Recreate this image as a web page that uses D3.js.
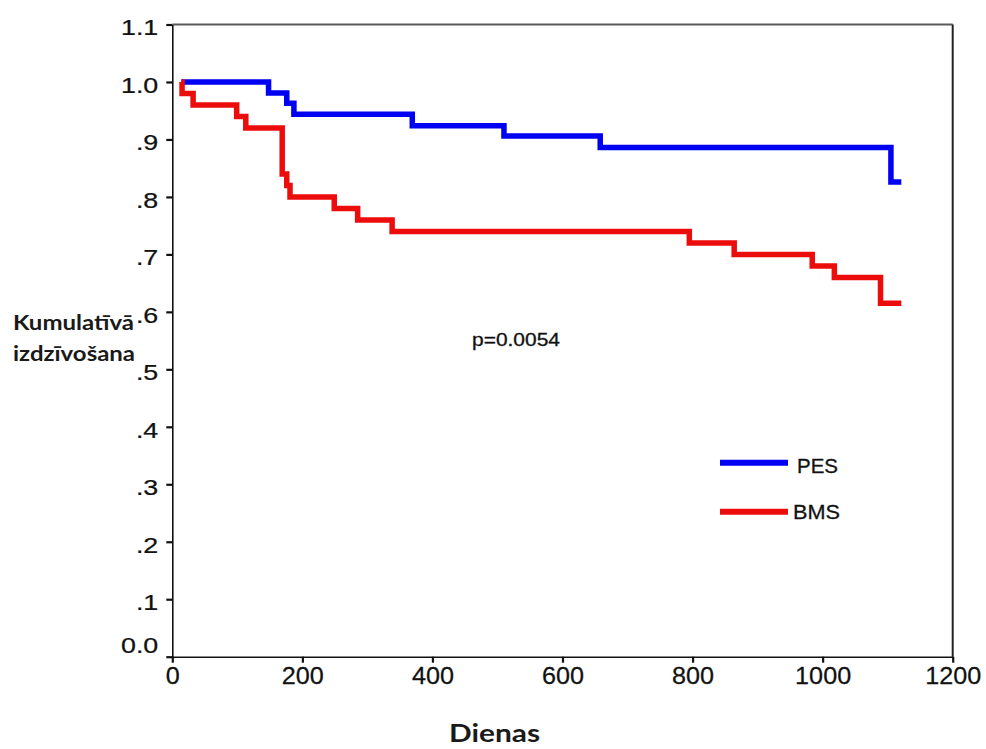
<!DOCTYPE html>
<html>
<head>
<meta charset="utf-8">
<script src="https://cdn.jsdelivr.net/npm/d3@7"></script>
<style>
  body { margin: 0; background: #fff; }
  svg { display: block; }
</style>
</head>
<body>
<svg id="chart" width="986" height="749"></svg>
<script>
// Kaplan–Meier survival estimates: day of each step and survival after it
const pesDays = [14, 148, 176, 187, 369, 510, 658, 1105, 1121];
const pesSurv = [1.0, 0.981, 0.963, 0.944, 0.924, 0.906, 0.886, 0.826, 0.826];

const bmsDays = [14, 15, 32, 99, 113, 169, 176, 181, 249, 285, 338, 795, 864, 984, 1018, 1089, 1121];
const bmsSurv = [1.0, 0.98, 0.96, 0.94, 0.92, 0.84, 0.82, 0.80, 0.78, 0.76, 0.74, 0.72, 0.70, 0.68, 0.66, 0.615, 0.615];

const seriesNames = ["PES", "BMS"];
const seriesColors = ["#0000f2", "#ec0c0c"];

const xTicks = [0, 200, 400, 600, 800, 1000, 1200];
const xTickLabels = ["0", "200", "400", "600", "800", "1000", "1200"];
const yTicks = [0, 0.1, 0.2, 0.3, 0.4, 0.5, 0.6, 0.7, 0.8, 0.9, 1.0, 1.1];
const yTickLabels = ["0.0", ".1", ".2", ".3", ".4", ".5", ".6", ".7", ".8", ".9", "1.0", "1.1"];

const xTitle = "Dienas";
const yTitle = ["Kumulatīvā", "izdzīvošana"];
const pValueText = "p=0.0054";

const svg = d3.select("#chart");
const numFont = "'Liberation Sans', Arial, Helvetica, sans-serif";
const titleFont = "Lato, 'Open Sans', sans-serif";
const ink = "#111";

// a thin outline gives the numeric text a touch more weight
function inkText(sel, weight) {
  return sel.attr("fill", ink).attr("stroke", ink).attr("stroke-width", weight)
    .attr("paint-order", "stroke");
}

const x = d3.scaleLinear().domain([0, 1200]).range([172.3, 952.7]);
const y = d3.scaleLinear().domain([0, 1.1]).range([656.7, 24.5]);

// plot frame: top and right edges
const [x0, x1] = x.range();
const [yBottom, yTop] = y.range();
svg.append("line").attr("x1", x0).attr("x2", x1).attr("y1", yTop).attr("y2", yTop)
  .attr("stroke", "#5a5a5a").attr("stroke-width", 2);
svg.append("line").attr("x1", x1).attr("x2", x1).attr("y1", yTop).attr("y2", yBottom)
  .attr("stroke", "#222").attr("stroke-width", 2);

// y axis
const yAxis = svg.append("g")
  .attr("transform", `translate(${x0},0)`)
  .call(d3.axisLeft(y).tickValues(yTicks).tickSize(6).tickSizeOuter(0)
    .tickFormat((d, i) => yTickLabels[i]));
yAxis.select(".domain").attr("stroke", ink).attr("stroke-width", 1.6);
yAxis.selectAll(".tick line").attr("stroke", ink).attr("stroke-width", 2.2);
inkText(yAxis.selectAll(".tick text"), 0.25)
  .attr("font-family", numFont).attr("font-size", 22)
  .attr("x", -11.5)
  .attr("dy", d => d === 0 ? "-0.2em" : "0.47em")
  .attr("transform", "scale(1.22,1)");

// x axis
const xAxis = svg.append("g")
  .attr("transform", `translate(0,${yBottom})`)
  .call(d3.axisBottom(x).tickValues(xTicks).tickSize(6).tickSizeOuter(0)
    .tickFormat((d, i) => xTickLabels[i]));
xAxis.select(".domain").attr("stroke", ink).attr("stroke-width", 1.6);
xAxis.selectAll(".tick line").attr("stroke", ink).attr("stroke-width", 2.2);
inkText(xAxis.selectAll(".tick text"), 0.25)
  .attr("font-family", numFont).attr("font-size", 24)
  .attr("y", 10)
  .attr("transform", "scale(1.05,1)");

// survival step curves
const stepLine = d3.line()
  .x(d => x(d[0]))
  .y(d => y(d[1]))
  .curve(d3.curveStepAfter);

const series = [
  { name: seriesNames[0], color: seriesColors[0], pts: d3.zip(pesDays, pesSurv) },
  { name: seriesNames[1], color: seriesColors[1], pts: d3.zip(bmsDays, bmsSurv) }
];

svg.append("g").selectAll("path")
  .data(series)
  .join("path")
  .attr("d", d => stepLine(d.pts))
  .attr("fill", "none")
  .attr("stroke", d => d.color)
  .attr("stroke-width", 5.5)
  .attr("stroke-linejoin", "miter");

// legend
const legendRows = [
  { y: 462.7, textX: 797, baseline: 472.5, len: 41 },
  { y: 511.7, textX: 793, baseline: 518.5, len: 47 }
];
const legend = svg.append("g");
series.forEach((s, i) => {
  const r = legendRows[i];
  legend.append("line")
    .attr("x1", 720).attr("x2", 788).attr("y1", r.y).attr("y2", r.y)
    .attr("stroke", s.color).attr("stroke-width", 6);
  inkText(legend.append("text"), 0.3)
    .attr("x", r.textX).attr("y", r.baseline)
    .attr("font-family", numFont).attr("font-size", 21)
    .attr("textLength", r.len).attr("lengthAdjust", "spacingAndGlyphs")
    .text(s.name);
});

// p-value annotation
inkText(svg.append("text"), 0.3)
  .attr("x", 472).attr("y", 345.5)
  .attr("font-family", numFont).attr("font-size", 18.5)
  .attr("textLength", 88).attr("lengthAdjust", "spacingAndGlyphs")
  .text(pValueText);

// axis titles
svg.append("text")
  .attr("x", 449).attr("y", 742)
  .attr("font-family", titleFont).attr("font-weight", 700).attr("font-size", 25)
  .attr("fill", "#1a1a1a")
  .attr("textLength", 91).attr("lengthAdjust", "spacingAndGlyphs")
  .text(xTitle);

svg.append("text")
  .attr("x", 13).attr("y", 330)
  .attr("font-family", titleFont).attr("font-weight", 700).attr("font-size", 21)
  .attr("fill", "#1a1a1a")
  .attr("textLength", 121).attr("lengthAdjust", "spacingAndGlyphs")
  .text(yTitle[0]);
svg.append("text")
  .attr("x", 13).attr("y", 361)
  .attr("font-family", titleFont).attr("font-weight", 700).attr("font-size", 21)
  .attr("fill", "#1a1a1a")
  .attr("textLength", 122).attr("lengthAdjust", "spacingAndGlyphs")
  .text(yTitle[1]);
</script>
</body>
</html>
